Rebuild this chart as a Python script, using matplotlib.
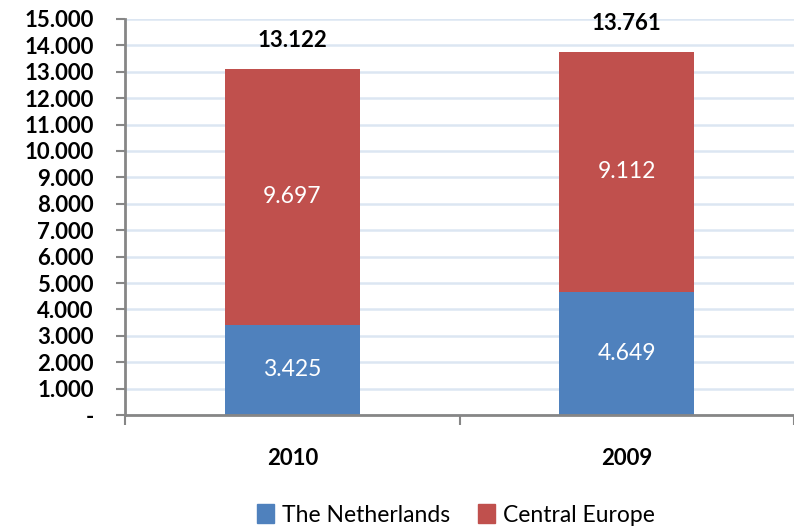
import matplotlib
matplotlib.use("Agg")
import matplotlib.pyplot as plt
import numpy as np
from matplotlib.patches import Patch

categories = ["2010", "2009"]
netherlands = [3425, 4649]
central_europe = [9697, 9112]
totals = [13122, 13761]
series_names = ["The Netherlands", "Central Europe"]
yticks = list(range(0, 15001, 1000))

BLUE = "#4F81BD"
RED = "#C0504D"
GRID = "#DCE6F2"
AXIS = "#868686"

def fmt(v):
    if v == 0:
        return "-"
    return f"{v:,}".replace(",", ".")

plt.rcParams['font.family'] = ['Lato', 'DejaVu Sans']

W, H = 794, 529
fig = plt.figure(figsize=(W / 100, H / 100), dpi=100)
ax = fig.add_axes([125 / W, (H - 415) / H, (W - 125) / W, (415 - 19) / H])

x = np.arange(len(categories))
bw = 0.404
ax.bar(x, netherlands, bw, color=BLUE, zorder=3, label=series_names[0])
ax.bar(x, central_europe, bw, bottom=netherlands, color=RED, zorder=3, label=series_names[1])

for i in range(len(categories)):
    ax.text(x[i], netherlands[i] / 2, fmt(netherlands[i]), ha="center", va="center",
            color="white", fontsize=16.5, zorder=4)
    ax.text(x[i], netherlands[i] + central_europe[i] / 2, fmt(central_europe[i]),
            ha="center", va="center", color="white", fontsize=16.5, zorder=4)
    ax.annotate(fmt(totals[i]), (x[i], totals[i]), xytext=(0, 20), textcoords="offset points",
                ha="center", va="center", fontsize=16, fontweight="bold", color="black")

ax.set_ylim(0, 15000)
ax.set_xlim(-0.5, -0.5 + (W - 125) / 340)
ax.set_yticks(yticks)
ax.set_yticklabels([fmt(v) for v in yticks], fontsize=16, fontweight="bold")
ax.tick_params(axis="y", direction="out", length=6.5, width=1.5, color=AXIS, pad=16)

ax.set_xticks([-0.5, 0.5, 1.5])
ax.set_xticklabels([])
ax.set_xticks(x, minor=True)
ax.set_xticklabels(categories, minor=True, fontsize=16, fontweight="bold")
ax.tick_params(axis="x", which="major", direction="out", length=7, width=1.5, color=AXIS)
ax.tick_params(axis="x", which="minor", length=0, pad=24)

ax.yaxis.grid(True, color=GRID, linewidth=1.8, zorder=0)
ax.set_axisbelow(True)
for s in ["top", "right"]:
    ax.spines[s].set_visible(False)
for s in ["left", "bottom"]:
    ax.spines[s].set_color(AXIS)
    ax.spines[s].set_linewidth(2)
    ax.spines[s].set_zorder(5)

handles = [Patch(color=BLUE), Patch(color=RED)]
fig.legend(handles, series_names, loc="center", bbox_to_anchor=(456 / W, 1 - 515 / H),
           ncol=2, frameon=False, fontsize=16.5, handlelength=0.75, handleheight=0.9,
           handletextpad=0.35, columnspacing=1.2)

fig.savefig("out.png", dpi=100)
